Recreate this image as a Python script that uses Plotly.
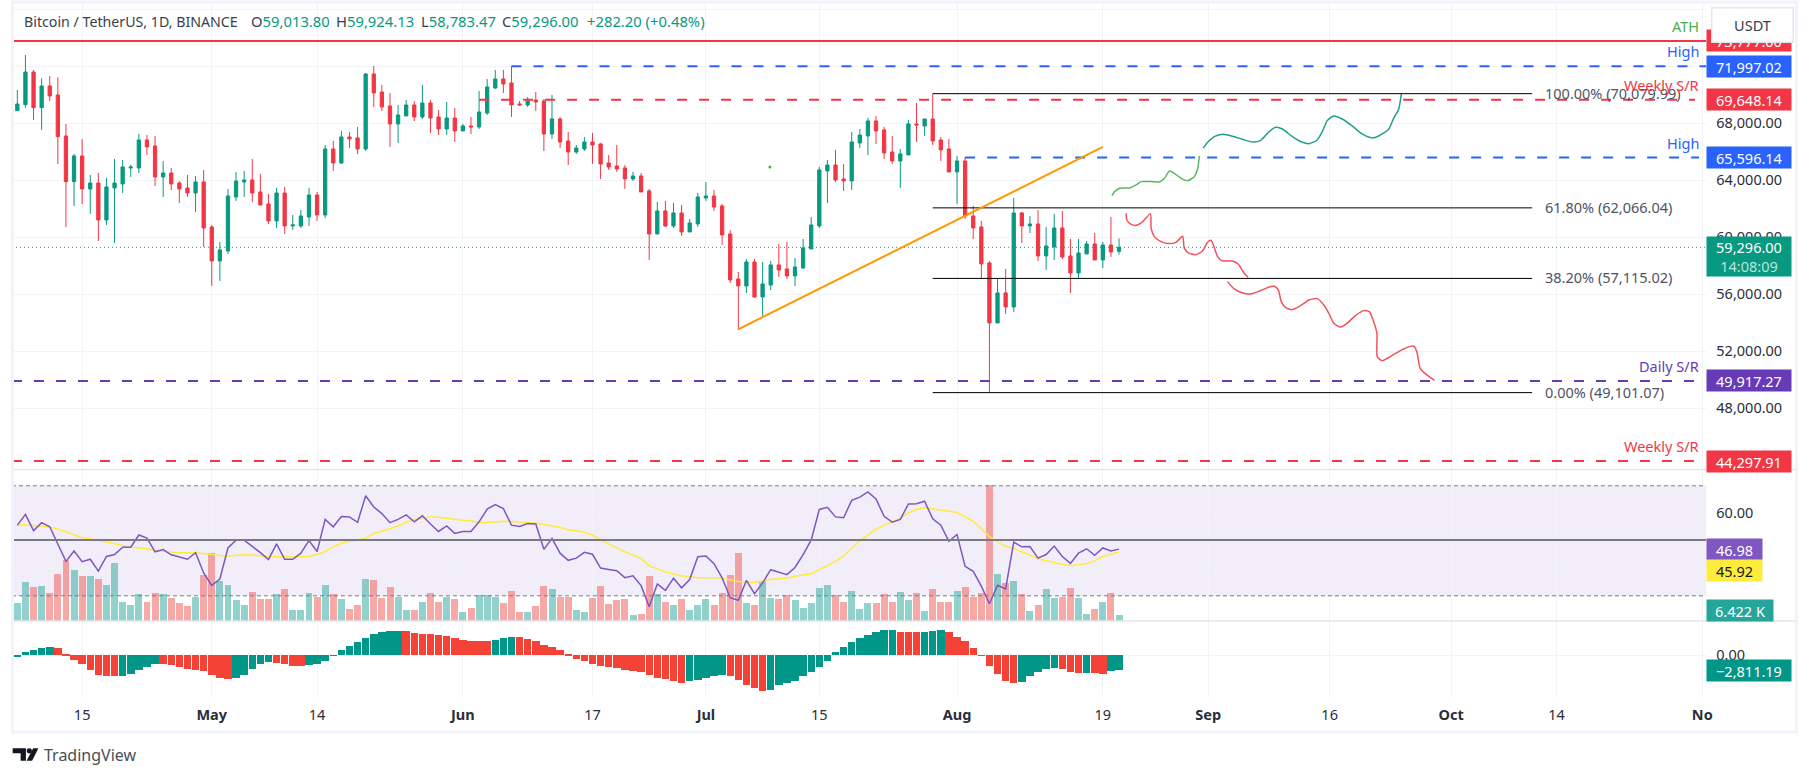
import pandas as pd
import plotly.graph_objects as go

W, H = 1815, 776
START = pd.Timestamp("2024-04-07")

opens = [68889,69310,71602,69099,70619,69988,67111,63906,65707,63392,63813,61217,63462,63743,64865,64865,66830,66409,64234,64515,63813,63462,63111,63883,60725,58340,59041,62831,63883,64023,63181,62339,61146,63111,60796,60796,61427,62971,61567,66199,65216,67041,66971,66199,71461,70198,69216,67953,68514,69286,68444,69426,68444,67602,68374,67462,67813,67742,68725,70479,71111,70830,69356,69286,69637,69567,67251,68304,66760,65988,66199,66690,66550,65217,65006,64866,64094,64305,63252,60235,61849,60796,61708,60375,60937,62761,62901,62200,60235,57077,56586,58270,55814,56656,58060,57779,57288,57849,59182,60796,64656,65077,64094,63954,66620,67111,68164,67532,65989,65357,65778,67954,67813,68304,66831,66199,64585,65357,61498,60726,58200,53990,56095,55112,61708,60796,60937,58691,59322,60656,58691,57498,58832,59533,58410,59463,59013.80]
highs = [70339,72795,71742,71157,71321,71228,67953,65848,66900,64374,64515,64164,65497,65427,65076,67251,67181,67111,65357,64865,63930,64374,64304,64725,60866,59673,63392,64585,64655,65497,64444,63041,63462,63532,61567,61918,63462,63181,66479,66760,67462,67392,67742,71532,72023,70690,70128,69286,69637,69567,70690,69637,68935,69497,69076,67953,68444,70269,71111,71742,71742,72023,69567,69848,70198,69707,69988,68444,67392,66479,67041,67321,66620,65778,66480,65077,64585,64515,63392,62480,62550,62410,62270,61287,63112,63884,63322,62340,60515,57568,58481,58481,58270,58340,59533,59673,58551,59884,61428,64936,65427,66129,65147,67392,67603,68375,68515,67743,67111,66199,68234,69427,68304,70080,67041,66901,65708,65638,62200,61147,58340,57077,57779,62761,61779,61498,61919,60726,61638,61849,59884,59884,59744,60305,59673,61428,59924.13]
lows = [68889,69099,68234,67532,69567,65146,60725,62199,62339,61638,59743,60866,59603,63111,64234,64515,65778,63602,62831,63322,62409,62831,61778,59322,56585,56936,58831,62550,62831,62480,62269,60936,60655,60234,60515,60655,60796,61146,61357,64655,65146,66269,65848,66058,69146,68865,66339,66620,68514,68163,68304,67321,67181,67181,66690,67462,67251,67602,68584,70409,70128,68444,69216,69146,68865,66058,66900,66269,65076,65848,66058,65146,64094,64726,64585,63392,63954,63182,58410,60235,60726,60656,60094,60375,60726,62550,61849,59463,56796,53498,56095,55744,54481,56305,57218,57077,56586,57779,59182,60656,62410,63884,63252,63322,66269,65778,66550,65498,65147,63463,65778,66690,67111,66480,65357,64585,62340,61287,59884,57077,49101,53990,54621,54762,59603,60305,58340,57709,58410,58481,56095,57147,58832,58410,57849,58621,58783.47]
closes = [69356,71602,69099,70619,69918,67064,63906,65707,63392,63813,61217,63532,63813,64936,64936,66830,66339,64234,64515,63743,63392,63111,63883,60655,58340,59111,62901,63953,64023,63111,62269,61146,63111,60796,60866,61497,62971,61567,66199,65216,67041,66900,66199,71461,70128,69146,67953,68584,69286,68444,69426,68374,67602,68374,67462,67813,67742,68795,70549,71111,70760,69286,69286,69567,69497,67251,68304,66690,65988,66269,66690,66479,65146,64936,64796,64094,64305,63182,60235,61849,60796,61708,60375,61007,62831,62901,62129,60165,57007,56586,58270,55814,56726,58060,57709,57288,57919,59252,60866,64726,65077,64024,63954,66690,67182,68164,67462,65919,65357,65848,67954,67883,68304,66761,66129,64585,65357,61498,60656,58130,53990,56095,55112,61708,60796,60937,58691,59393,60656,58621,57498,58902,59533,58410,59463,58972,59296.00]

volume_k = [17.4,35.8,31.2,33.0,25.7,44.0,56.0,47.7,41.3,42.2,39.4,33.9,54.1,18.3,15.6,24.8,18.3,26.6,24.8,22.0,17.4,13.8,22.9,43.1,63.3,37.6,33.9,19.3,15.6,27.5,21.1,21.1,24.8,29.4,11.0,11.0,25.7,22.9,33.9,24.8,21.1,11.9,14.7,39.4,38.5,22.0,32.1,22.9,10.1,10.1,18.3,25.7,18.3,22.9,21.1,8.3,12.8,23.9,23.9,22.9,17.4,28.4,8.3,8.3,13.8,33.0,29.4,22.9,22.9,10.1,8.3,22.0,33.0,16.5,19.3,21.1,6.4,7.3,41.3,24.8,18.3,14.7,20.2,10.1,14.7,20.2,15.6,25.7,43.1,63.3,17.4,15.6,37.6,22.0,20.2,23.9,19.3,12.8,17.4,30.3,33.9,23.9,18.3,28.4,11.9,17.4,17.4,24.8,18.3,27.5,19.3,25.7,9.2,29.4,18.3,18.3,28.4,31.2,22.9,25.7,124.8,44.0,34.9,37.6,24.8,9.2,15.6,29.4,22.0,22.9,30.3,22.0,7.3,11.9,18.3,25.7,6.422]

rsi = [55.7,59.6,53.7,56.6,55.1,48.9,42.5,46.3,42.4,43.3,39.0,44.3,45.0,47.7,47.7,52.1,51.0,46.0,46.8,44.9,44.1,43.3,45.7,38.3,33.8,36.1,47.4,50.2,50.2,48.1,45.7,43.2,48.9,43.3,43.3,45.5,50.1,46.1,57.8,55.1,58.8,58.7,56.7,66.4,62.3,59.9,56.6,57.8,59.4,56.9,59.1,56.1,53.4,55.4,52.7,53.4,53.4,56.9,61.5,63.2,61.7,55.7,55.2,56.3,56.1,46.9,50.9,45.5,42.9,43.7,45.8,45.1,40.1,39.6,39.1,36.6,37.3,33.7,26.0,34.3,32.0,36.4,32.9,35.9,44.2,44.5,41.7,36.5,29.3,28.4,35.6,30.8,34.7,39.5,38.7,37.7,40.3,45.0,50.3,61.4,62.2,58.7,58.4,64.7,65.9,67.8,65.2,58.9,56.8,57.8,63.4,63.5,64.4,58.0,55.7,49.8,52.3,40.7,38.9,33.5,27.1,33.8,32.5,49.5,47.8,47.9,43.7,45.0,48.1,44.3,41.8,45.5,47.1,44.7,47.4,46.3,46.98]
rsi_ma = [55.7,55.8,55.6,55.4,55.0,54.3,53.2,52.1,51.1,50.7,50.2,49.6,48.9,48.3,47.7,47.4,47.1,46.5,46.1,45.9,45.7,45.7,45.7,45.4,45.0,44.7,44.5,44.8,44.9,44.8,44.5,44.3,44.2,44.2,44.1,44.2,44.3,45.0,46.1,47.9,49.1,49.8,50.2,51.0,52.7,53.5,54.4,55.4,56.7,57.8,58.2,58.7,58.6,58.2,58.0,57.5,57.3,56.7,56.7,56.9,57.1,57.0,56.8,56.7,56.4,55.9,55.5,54.9,54.0,53.5,53.1,52.1,50.3,48.9,47.3,46.0,44.8,43.6,40.9,39.7,38.7,37.9,37.2,36.9,36.6,36.6,36.6,36.5,35.8,35.2,35.0,34.9,35.4,36.0,36.2,36.5,37.1,37.6,38.0,39.5,40.9,42.5,44.5,47.2,50.0,52.1,54.3,55.7,56.9,58.1,60.2,61.4,62.1,61.6,61.1,60.6,60.3,58.7,57.1,54.5,51.5,49.5,48.0,47.2,46.1,44.8,43.5,42.7,42.1,41.5,41.0,41.3,41.7,42.7,44.3,45.1,45.92]

macd_hist = [-375,562,938,1312,1500,1312,188,-938,-1688,-2812,-3750,-3938,-3938,-3938,-3562,-2812,-2250,-1688,-1688,-1875,-2250,-2625,-2812,-3000,-3750,-4312,-4500,-4312,-3750,-2625,-1688,-1312,-1500,-1688,-2062,-2062,-1875,-1688,-1125,-125,938,1688,2438,3188,3938,4312,4500,4500,4500,4125,3938,3938,3750,3562,3188,2812,2625,2625,2625,2812,3188,3375,3375,3000,2625,1875,1500,938,188,-750,-1125,-1688,-2062,-2250,-2438,-2812,-3000,-3188,-3750,-4312,-4500,-4875,-5250,-4875,-4688,-4312,-3938,-3750,-3938,-4688,-5625,-6188,-6750,-6562,-5625,-5250,-4875,-3938,-3188,-2250,-1125,562,1500,2438,3188,3750,4312,4688,4688,4312,4312,4312,4312,4500,4688,4312,3375,2625,1312,-62,-2062,-3562,-4875,-5250,-5062,-3938,-3188,-2625,-2438,-2625,-3188,-3375,-3375,-3375,-3562,-3000,-2811.19]
macd_runs = [("G",5),("R",8),("G",5),("R",9),("G",5),("R",4),("G",12),("R",11),("G",3),("R",21),("G",5),("R",5),("G",16),("R",3),("G",3),("R",9),("G",5),("R",3),("G",1),("R",2),("G",2)]
macd_rising = [c for c, k in macd_runs for _ in range(k)]

fib_levels = [70079.99, 62066.04, 57115.02, 49101.07]
fib_labels = ["100.00% (70,079.99)", "61.80% (62,066.04)", "38.20% (57,115.02)", "0.00% (49,101.07)"]

green_days = [135.13,135.46,136.07,137.3,138.12,138.74,139.97,140.99,141.61,142.22,142.84,143.66,144.48,145.3,145.71,145.91]
green_prices = [62925,63205,63439,63463,63673,63907,63907,63884,64141,64656,64492,64141,63977,64258,64843,65708]
teal_days = [146.4,146.94,147.76,148.78,150.01,151.24,152.48,153.5,154.53,155.35,156.17,157.4,158.63,159.45,160.47,161.09,161.7,162.52,163.55,164.78,166.01,167.24,168.06,169.29,169.9,170.52,170.85]
teal_prices = [66269,66667,67065,67228,67088,66878,66690,66807,67416,67720,67603,67065,66667,66573,66831,67416,68187,68515,68304,67813,67252,66971,67111,67579,68351,68983,70059]
red1_days = [136.88,136.96,137.5,138.11,138.93,139.87,139.96,140.37,141.19,142.21,143.03,143.85,144.06,144.67,145.49,146.31,146.93,147.34,147.62,148.16,148.77,150.0,150.74,151.44,151.93]
red1_prices = [61684,61216,60912,60842,61100,61661,60632,60047,59696,59556,59649,60070,59228,58877,58784,59041,59649,59790,59509,58644,58340,58340,58106,57474,57193]
red2_days = [149.39,150.21,151.23,152.26,153.28,154.31,155.13,155.66,156.03,156.57,157.39,158.41,159.44,160.46,161.28,161.9,162.51,163.33,164.15,165.18,166.2,166.9,167.43,167.84,167.88,168.46,169.69,171.12,172.35,172.76,173.17,173.99,174.94]
red2_prices = [56889,56375,56094,56024,56211,56468,56585,56305,55486,55065,54925,55205,55603,55696,55252,54667,53966,53708,53966,54503,54854,54784,54082,53264,51627,51346,51697,52165,52375,51977,50808,50340,49966]
marker_day = [92.9]
marker_price = [64936]

tick_dates = ["2024-04-15","2024-05-01","2024-05-14","2024-06-01","2024-06-17","2024-07-01","2024-07-15","2024-08-01","2024-08-19","2024-09-01","2024-09-16","2024-10-01","2024-10-14","2024-11-01"]
tick_text = ["15","<b>May</b>","14","<b>Jun</b>","17","<b>Jul</b>","15","<b>Aug</b>","19","<b>Sep</b>","16","<b>Oct</b>","14","<b>No</b>"]

n = len(opens)
assert all(len(a) == n for a in [highs, lows, closes, volume_k, rsi, rsi_ma, macd_hist, macd_rising]), [len(a) for a in [opens, highs, lows, closes, volume_k, rsi, rsi_ma, macd_hist, macd_rising]]

FONT = "Noto Sans"
RED, BLUE, GREEN, PURPLE = "#F23645", "#2962FF", "#089981", "#673AB7"
GRID = "#F2F3F7"
FS = 14.5


def day(i):
    return START + pd.Timedelta(days=i)


def px(x):
    return x / W


def py(y):
    return 1 - y / H


dates = [day(i) for i in range(n)]
x_lo, x_hi = day(-0.664), day(208.5)
DAY_MS = 86400000

fig = go.Figure()
fig.add_trace(go.Candlestick(
    x=dates, open=opens, high=highs, low=lows, close=closes, xaxis="x", yaxis="y",
    increasing=dict(line=dict(color=GREEN, width=1), fillcolor=GREEN),
    decreasing=dict(line=dict(color=RED, width=1), fillcolor=RED),
    whiskerwidth=0, hoverinfo="skip", showlegend=False))

for d, p, c, w in [(green_days, green_prices, "#5CB660", 1.5), (teal_days, teal_prices, "#22A08C", 1.5),
                   (red1_days, red1_prices, "#F4505E", 1.5), (red2_days, red2_prices, "#F4505E", 1.5)]:
    fig.add_trace(go.Scatter(x=[day(i) for i in d], y=p, mode="lines", xaxis="x", yaxis="y",
                             line=dict(color=c, width=w, shape="spline", smoothing=0.6),
                             hoverinfo="skip", showlegend=False))
fig.add_trace(go.Scatter(x=[day(i) for i in marker_day], y=marker_price, mode="markers", xaxis="x", yaxis="y",
                         marker=dict(color="#4CAF50", size=3), hoverinfo="skip", showlegend=False))

fig.add_trace(go.Bar(
    x=dates, y=volume_k, xaxis="x2", yaxis="y2", width=0.86 * DAY_MS,
    marker=dict(color=["rgba(38,166,154,0.5)" if c >= o else "rgba(239,83,80,0.5)" for o, c in zip(opens, closes)], line_width=0),
    hoverinfo="skip", showlegend=False))
fig.add_trace(go.Scatter(x=dates, y=rsi_ma, mode="lines", xaxis="x2", yaxis="y3",
                         line=dict(color="#FFEB3B", width=1.5), hoverinfo="skip", showlegend=False))
fig.add_trace(go.Scatter(x=dates, y=rsi, mode="lines", xaxis="x2", yaxis="y3",
                         line=dict(color="#7E57C2", width=1.5), hoverinfo="skip", showlegend=False))
fig.add_trace(go.Bar(
    x=dates, y=macd_hist, xaxis="x3", yaxis="y4", width=0.92 * DAY_MS,
    marker=dict(color=["#009688" if f == "G" else "#F44336" for f in macd_rising], line_width=0),
    hoverinfo="skip", showlegend=False))

shapes = []


def hline(y, c, x0=None, x1=None, width=2, dash="10px,12px", yref="y", xref="x", layer="above"):
    shapes.append(dict(type="line", xref=xref, yref=yref, x0=x_lo if x0 is None else x0, x1=x_hi if x1 is None else x1,
                       y0=y, y1=y, line=dict(color=c, width=width, dash=dash), layer=layer))


hline(59296.00, GREEN, width=1, dash="1px,3px")
hline(73775, RED, dash="solid")
hline(71997.02, BLUE, x0=day(61))
hline(69648.14, RED, x0=day(57), x1=day(207.1))
hline(65596.14, BLUE, x0=day(117), x1=day(207.6))
hline(49917.27, PURPLE)
hline(44297.91, RED)
for lv in fib_levels:
    hline(lv, "#000000", x0=day(113), x1=day(187), width=1, dash="solid")
shapes.append(dict(type="line", xref="x", yref="y", x0=day(89), x1=day(134), y0=53545, y1=66340,
                   line=dict(color="#FF9800", width=2), layer="above"))
shapes.append(dict(type="rect", xref="x2", yref="y3", x0=x_lo, x1=x_hi, y0=30, y1=70,
                   fillcolor="rgba(126,87,194,0.1)", line_width=0, layer="below"))
hline(70, "#787B86", width=1, dash="4px,3px", yref="y3", xref="x2")
hline(30, "#787B86", width=1, dash="4px,3px", yref="y3", xref="x2")
hline(50.3, "#787B86", width=2, dash="solid", yref="y3", xref="x2")
# pane separators and outer frame
for yy in (469.5, 621):
    shapes.append(dict(type="line", xref="paper", yref="paper", x0=px(12), x1=px(1802), y0=py(yy), y1=py(yy),
                       line=dict(color="#E4E6EE", width=1.5), layer="above"))
shapes.append(dict(type="rect", xref="paper", yref="paper", x0=px(12.5), x1=px(1802.5), y0=py(2), y1=py(732),
                   line=dict(color="#F0F3FA", width=3), layer="above"))
# TradingView mark
shapes.append(dict(type="path", xref="paper", yref="paper", layer="above", fillcolor="#131722", line_width=0,
                   path=f"M{px(12.7)},{py(748.3)} L{px(26)},{py(748.3)} L{px(26)},{py(760.7)} L{px(20.7)},{py(760.7)} L{px(20.7)},{py(753.3)} L{px(12.7)},{py(753.3)} Z"))
shapes.append(dict(type="circle", xref="paper", yref="paper", layer="above", fillcolor="#131722", line_width=0,
                   x0=px(26.8), x1=px(32), y0=py(748.2), y1=py(753.4)))
shapes.append(dict(type="path", xref="paper", yref="paper", layer="above", fillcolor="#131722", line_width=0,
                   path=f"M{px(33.3)},{py(748.3)} L{px(38.5)},{py(748.3)} L{px(32.2)},{py(760.7)} L{px(26.7)},{py(760.7)} Z"))

ann = []


def text(x, y, s, color="#2A2E39", size=FS, anchor="left", xref="paper", yref="paper", yshift=0, yanchor="middle"):
    ann.append(dict(x=x, y=y, xref=xref, yref=yref, text=s, showarrow=False, xanchor=anchor, yanchor=yanchor,
                    yshift=yshift, font=dict(family=FONT, size=size, color=color), align="left", borderpad=0))


def tag(y, s, bg, fg="#FFFFFF", yref="y", width=84, height=21):
    ann.append(dict(x=px(1712), y=y, xref="paper", yref=yref, text=s, showarrow=False, xanchor="left", yanchor="middle",
                    width=width, height=height, bgcolor=bg, borderpad=0, align="center",
                    font=dict(family=FONT, size=FS, color=fg)))


# header
text(px(23.5), py(21), "Bitcoin / TetherUS, 1D, BINANCE", color="#3A3E4A", size=14.2)
up = '<span style="color:#089981">%s</span>'
for xx, s in [(251, "O" + up % "59,013.80"), (336, "H" + up % "59,924.13"), (421, "L" + up % "58,783.47"),
              (503, "C" + up % "59,296.00"), (588, up % "+282.20 (+0.48%)")]:
    text(px(xx), py(21), s, color="#3A3E4A", size=14.8)
# drawing labels
for lv, lab in zip(fib_levels, fib_labels):
    text(day(188.4), lv, lab, color="#50535E", xref="x", yref="y", yshift=1)
for val, lab, col in [(73775, "ATH", "#4CAF50"), (71997.02, "High", BLUE), (69648.14, "Weekly S/R", RED),
                      (65596.14, "High", BLUE), (49917.27, "Daily S/R", PURPLE), (44297.91, "Weekly S/R", RED)]:
    text(px(1706), val, lab, color=col, anchor="right", yref="y", yanchor="bottom", yshift=4)
text(px(43), py(755), "TradingView", color="#4A4E59", size=16)

# price tags
tag(73775, "73,777.00", RED)
ann.append(dict(x=px(1716.7), y=py(6.7), xref="paper", yref="paper", text="USDT", showarrow=False, xanchor="left", yanchor="top",
                width=80, height=32.6, bgcolor="#FFFFFF", bordercolor="#E4E6EE", borderwidth=1.5, borderpad=0, align="center",
                font=dict(family=FONT, size=FS, color="#3A3E4A")))
tag(71997.02, "71,997.02", BLUE)
tag(69648.14, "69,648.14", RED)
tag(65596.14, "65,596.14", BLUE)
ann.append(dict(x=px(1712), y=59296.00, xref="paper", yref="y", text='59,296.00<br><span style="color:#B7E3DA">14:08:09</span>',
                showarrow=False, xanchor="left", yanchor="top", yshift=11, width=84, height=39, bgcolor=GREEN, borderpad=0,
                align="center", font=dict(family=FONT, size=FS, color="#FFFFFF")))
tag(49917.27, "49,917.27", PURPLE)
tag(44297.91, "44,297.91", RED)
tag(46.98, "46.98", "#7E57C2", yref="y3", width=55)
tag(py(570.5), "45.92", "#FFEB3B", fg="#131722", yref="paper", width=55)
tag(py(610.5), "6.422 K", "#26A69A", yref="paper", width=66)
tag(-2811.19, "−2,811.19", "#009688", yref="y4")

axis_font = dict(family=FONT, size=FS, color="#2A2E39")
base_x = dict(domain=[px(12), px(1712)], range=[x_lo, x_hi], type="date", tickmode="array", tickvals=tick_dates,
              showgrid=True, gridcolor=GRID, gridwidth=1, zeroline=False, showline=False, ticks="", fixedrange=True)
base_y = dict(side="right", showgrid=True, gridcolor=GRID, gridwidth=1, zeroline=False, showline=False, ticks="",
              tickfont=axis_font, fixedrange=True, ticklabelstandoff=9)

fig.update_layout(
    width=W, height=H, margin=dict(l=0, r=0, t=0, b=0), paper_bgcolor="#FFFFFF", plot_bgcolor="rgba(0,0,0,0)",
    showlegend=False, autosize=False, shapes=shapes, annotations=ann, bargap=0, boxgap=0.42,
    xaxis=dict(base_x, anchor="y", showticklabels=False, rangeslider=dict(visible=False)),
    xaxis2=dict(base_x, anchor="y2", showticklabels=False, matches="x"),
    xaxis3=dict(base_x, anchor="y4", matches="x", ticktext=tick_text, showticklabels=True, tickfont=axis_font,
                ticklabelstandoff=7),
    yaxis=dict(base_y, anchor="x", domain=[py(469.5), py(3)], range=[43705, 76442], tickmode="array",
               tickvals=[48000, 52000, 56000, 60000, 64000, 68000, 72000, 76000],
               ticktext=["48,000.00", "52,000.00", "56,000.00", "60,000.00", "64,000.00", "68,000.00", "72,000.00", "76,000.00"]),
    yaxis2=dict(anchor="x2", domain=[py(621), py(469.5)], range=[0, 139], showgrid=False, showticklabels=False,
                zeroline=False, fixedrange=True),
    yaxis3=dict(base_y, anchor="x2", overlaying="y2", range=[20.84, 75.93], tickmode="array",
                tickvals=[40, 60], ticktext=["40.00", "60.00"]),
    yaxis4=dict(base_y, anchor="x3", domain=[py(697), py(621)], range=[-7815, 6428], tickmode="array",
                tickvals=[0], ticktext=["0.00"]),
)

fig.write_html("out.html", config=dict(displayModeBar=False),
               post_script="document.body.style.margin='0';document.body.style.overflow='hidden';")
